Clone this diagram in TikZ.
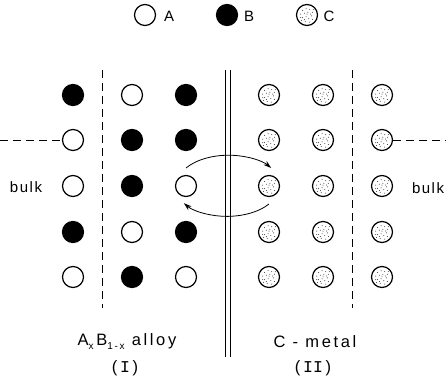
\documentclass[tikz,border=0pt]{standalone}
\usepackage{fontspec}
\setmainfont{Liberation Sans}
\newfontfamily\lett[LetterSpace=16]{Liberation Sans}
\newfontfamily\lettw[LetterSpace=10]{Liberation Sans}
\newfontfamily\lettm{Liberation Mono}
\usetikzlibrary{arrows.meta,calc}
\newcommand\sbx[1]{\raisebox{-4pt}{\fontsize{10}{10}\selectfont #1}}
\begin{document}
\begin{tikzpicture}[x=1pt,y=-1pt,
  atom/.style={circle,draw,line width=1.2pt,minimum size=21pt,inner sep=0pt},
  atoma/.style={atom,fill=white},
  atomb/.style={atom,fill=black},
  atomc/.style={atom,fill=white,path picture={
     \foreach \dx/\dy in {-5/-5,-1/-7,3/-6,6/-3,-7/-1,-3/-2,1/-3,5/1,-5/3,-1/2,2/4,-2/7,-6/6,6/5,3/8,0/-1,4/-1,-3/5,7/-6,-7/3}
       {\fill[black!80,shift={(path picture bounding box.center)}] (\dx*0.9,\dy*0.9) circle (0.5pt);}}},
  dashline/.style={line width=0.8pt,dash pattern=on 8pt off 5pt},
  arr/.style={line width=0.8pt,-{Stealth[length=8pt,width=5pt]}},
  lbl/.style={font=\fontsize{16.5}{16.5}\selectfont\lett,inner sep=0pt},
  lgd/.style={font=\fontsize{15}{15}\selectfont,inner sep=0pt},
  bulklbl/.style={font=\fontsize{15}{15}\selectfont\lettw,inner sep=0pt}
]
\useasboundingbox (0,0) rectangle (446,379);

% legend
\node[atoma] (la) at (145,15) {};
\node[lgd] (ta) at (169,16) {A};
\node[atomb] (lb) at (227,15) {};
\node[lgd] (tb) at (249,16) {B};
\node[atomc] (lc) at (307,15) {};
\node[lgd] (tc) at (329,16) {C};

% alloy atoms
\foreach \y/\p/\q/\s [count=\r] in {95/b/a/b,140/a/b/b,186/a/b/a,232/b/a/b,277/a/b/a} {
  \node[atom\p] (l\r1) at (73,\y) {};
  \node[atom\q] (l\r2) at (132,\y) {};
  \node[atom\s] (l\r3) at (186,\y) {};
}
% metal atoms
\foreach \y [count=\r] in {95,140,186,232,277} {
  \node[atomc] (r\r1) at (269,\y) {};
  \node[atomc] (r\r2) at (323,\y) {};
  \node[atomc] (r\r3) at (382,\y) {};
}

% dashed boundaries
\draw[dashline] (102,70) -- (102,308);
\draw[dashline] (352,70) -- (352,308);
\coordinate (hl) at (0,140);
\coordinate (hr) at (446,140);
\draw[dashline] (hl) -- (l21.west);
\draw[dashline] (r23.east) -- (hr);

% interface double line
\draw[line width=1.1pt] (225.5,70) -- (225.5,357);
\draw[line width=0.8pt] (230,70) -- (230,357);

% exchange arrows
\draw[arr] ([yshift=18pt]l33.center) arc[start angle=145, end angle=35, x radius=52pt, y radius=30pt];
\draw[arr] ([yshift=-18pt]r31.center) arc[start angle=-36, end angle=-146, x radius=52pt, y radius=30pt];

% labels
\node[bulklbl] (bl) at (26,187) {bulk};
\node[bulklbl] (br) at (428,188) {bulk};
\node[lbl] (al) at (127,342) {A\sbx{x}\,B\sbx{1-x} alloy};
\node[lbl] (ai) at (125,368) {(\,{\lettm I}\,)};
\node[lbl] (cm) at (315,342) {C - metal};
\node[lbl] (cii) at (313,368) {(\,{\lettm II}\,)};
\end{tikzpicture}
\end{document}
